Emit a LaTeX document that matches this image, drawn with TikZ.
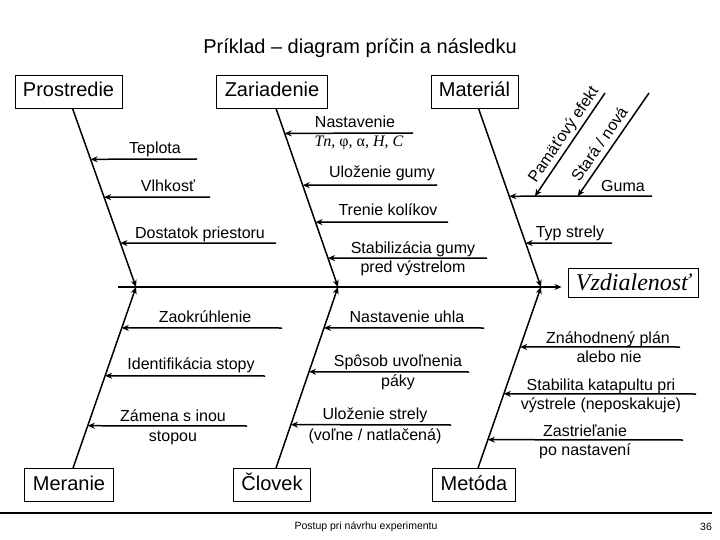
\documentclass[tikz,border=0pt]{standalone}
\usepackage{fontspec}
\setmainfont{Liberation Sans}
\newfontfamily\serifface{Liberation Serif}
\usetikzlibrary{arrows.meta,calc}

\begin{document}
\begin{tikzpicture}[
		x=1pt, y=-1pt,
		box/.style={draw, line width=0.8pt, inner xsep=8pt, inner ysep=2pt, minimum height=33pt, text height=14.5pt, text depth=4pt, font=\fontsize{20}{24}\selectfont},
		bone/.style={line width=1.5pt, -{Stealth[length=7pt,width=6pt]}},
		cause/.style={line width=1.5pt, -{Stealth[length=7pt,width=6pt]}},
		lbl/.style={inner sep=0pt, text height=11.5pt, text depth=3.5pt, font=\fontsize{16}{19}\selectfont},
		foot/.style={inner sep=0pt, font=\fontsize{10.5}{12}\selectfont},
	]
	\useasboundingbox (0,0) rectangle (720,540);

	\node[font=\fontsize{20}{24}\selectfont] (title) at (360,48) {Príklad – diagram príčin a následku};

	% categories
	\node[box] (prostredie) at (68.5,91.5) {Prostredie};
	\node[box] (zariadenie) at (272,91.5) {Zariadenie};
	\node[box] (material) at (474.5,91.5) {Materiál};
	\node[box] (meranie) at (69,485) {Meranie};
	\node[box] (clovek) at (272,485) {Človek};
	\node[box] (metoda) at (474,485) {Metóda};
	\node[box, minimum height=29pt, text height=17pt, text depth=1pt, font=\serifface\itshape\fontsize{24}{28}\selectfont] (vzdial) at (633,282.5) {Vzdialenosť};

	% spine and bones
	\coordinate (tail) at (118,287);
	\coordinate (j1) at (136,287);
	\coordinate (j2) at (338,287);
	\coordinate (j3) at (541,287);
	\coordinate (p1) at ([xshift=4pt]prostredie.south);
	\coordinate (p2) at ([xshift=4pt]zariadenie.south);
	\coordinate (p3) at ([xshift=4pt]material.south);
	\coordinate (q1) at ([xshift=4pt]meranie.north);
	\coordinate (q2) at ([xshift=4pt]clovek.north);
	\coordinate (q3) at ([xshift=4pt]metoda.north);
	\draw[bone, shorten >=6pt] (tail) -- (tail -| vzdial.west);
	\draw[bone] (p1) -- (j1);
	\draw[bone] (p2) -- (j2);
	\draw[bone] (p3) -- (j3);
	\draw[bone] (q1) -- (j1);
	\draw[bone] (q2) -- (j2);
	\draw[bone] (q3) -- (j3);

	% Prostredie
	\draw[cause] (197,159) -- ($(p1)!0.285!(j1)$);
	\draw[cause] (210,197) -- ($(p1)!0.497!(j1)$);
	\draw[cause] (276,243) -- ($(p1)!0.754!(j1)$);
	\node[lbl] (teplota) at (155,150) {Teplota};
	\node[lbl] (vlhkost) at (168,188) {Vlhkosť};
	\node[lbl] (priestor) at (200,234) {Dostatok priestoru};

	% Zariadenie
	\draw[cause] (413,133) -- ($(p2)!0.140!(j2)$);
	\draw[cause] (437,185) -- ($(p2)!0.430!(j2)$);
	\draw[cause] (448,222) -- ($(p2)!0.637!(j2)$);
	\draw[cause] (487,258) -- ($(p2)!0.838!(j2)$);
	\node[lbl] (nastavenie) at (355,124) {Nastavenie};
	\node[lbl, font=\serifface\fontsize{16}{19}\selectfont] (param) at (359,143) {\textit{Tn}, φ, α, \textit{H}, \textit{C}};
	\node[lbl] (ulozgumy) at (382,174) {Uloženie gumy};
	\node[lbl] (trenie) at (388,211) {Trenie kolíkov};
	\node[lbl] (stabgumy) at (413,249) {Stabilizácia gumy};
	\node[lbl] (stabgumy2) at (413,268) {pred výstrelom};

	% Material
	\draw[cause] (652,196) coordinate (gumaR) -- ($(p3)!0.492!(j3)$) coordinate (gumaL);
	\draw[cause] (612,243) -- ($(p3)!0.754!(j3)$);
	\node[lbl] (guma) at (623,188) {Guma};
	\node[lbl] (typstrely) at (570,233) {Typ strely};
	\coordinate (pamTop) at (605,93);
	\coordinate (staraTop) at (649,93);
	\draw[cause] (pamTop) -- ($(gumaL)!0.18!(gumaR)$) node[lbl, pos=0.46, sloped, above=2pt] (pamat) {Pamäťový efekt};
	\draw[cause] (staraTop) -- ($(gumaL)!0.48!(gumaR)$) node[lbl, pos=0.56, sloped, above=2pt] (stara) {Stará / nová};

	% Meranie
	\draw[cause] (282,328) -- ($(q1)!0.774!(j1)$);
	\draw[cause] (265,376) -- ($(q1)!0.510!(j1)$);
	\draw[cause] (247,426) -- ($(q1)!0.234!(j1)$);
	\node[lbl] (zaokr) at (205,318) {Zaokrúhlenie};
	\node[lbl] (identif) at (191,365) {Identifikácia stopy};
	\node[lbl] (zamena) at (173,417) {Zámena s inou};
	\node[lbl] (zamena2) at (173,437) {stopou};

	% Clovek
	\draw[cause] (484,328) -- ($(q2)!0.774!(j2)$);
	\draw[cause] (469,372) -- ($(q2)!0.532!(j2)$);
	\draw[cause] (451,425) -- ($(q2)!0.240!(j2)$);
	\node[lbl] (uhol) at (407,318) {Nastavenie uhla};
	\node[lbl] (sposob) at (398,362) {Spôsob uvoľnenia};
	\node[lbl] (sposob2) at (398,382) {páky};
	\node[lbl] (ulozstrely) at (375,415) {Uloženie strely};
	\node[lbl] (ulozstrely2) at (375,436) {(voľne / natlačená)};

	% Metoda
	\draw[cause] (680,347) -- ($(q3)!0.669!(j3)$);
	\draw[cause] (696,394) -- ($(q3)!0.410!(j3)$);
	\draw[cause] (683,440) -- ($(q3)!0.157!(j3)$);
	\node[lbl] (plan) at (608,339) {Znáhodnený plán};
	\node[lbl] (plan2) at (609,358) {alebo nie};
	\node[lbl] (stabkat) at (601,386) {Stabilita katapultu pri};
	\node[lbl] (stabkat2) at (601,405) {výstrele (neposkakuje)};
	\node[lbl] (zastriel) at (585,432) {Zastrieľanie};
	\node[lbl] (zastriel2) at (585,451) {po nastavení};

	% footer
	\draw[line width=1.2pt] (0,513) -- (712,513);
	\node[foot] (footer) at (366,527) {Postup pri návrhu experimentu};
	\node[foot] (page) at (706,527) {36};
\end{tikzpicture}
\end{document}
